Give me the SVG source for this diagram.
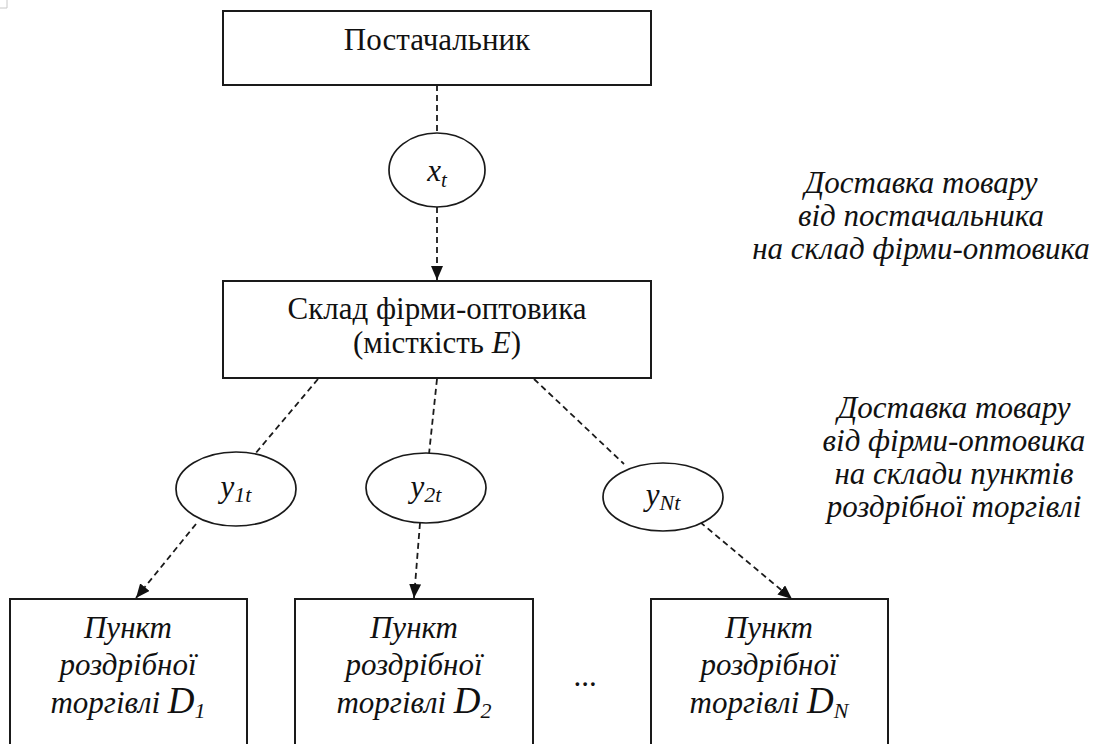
<svg xmlns="http://www.w3.org/2000/svg" width="1105" height="744" viewBox="0 0 1105 744" font-family="Liberation Serif">
  <defs>
    <marker id="arrow" markerUnits="userSpaceOnUse" markerWidth="15" markerHeight="12" refX="14" refY="6" orient="auto">
      <path d="M0,0 L14,6 L0,12 z" fill="#111"/>
    </marker>
  </defs>

  <rect width="1105" height="744" fill="#ffffff"/>
  <!-- page corner mark -->
  <path d="M7,0 V8 H0" fill="none" stroke="#c8c8c8" stroke-width="1"/>

  <!-- dashed flow connectors -->
  <g id="connectors" fill="none" stroke="#1a1a1a" stroke-width="1.8" stroke-dasharray="6 4">
    <line x1="437" y1="85" x2="437" y2="133"/>
    <line x1="437" y1="207" x2="437" y2="280" marker-end="url(#arrow)"/>
    <line x1="318" y1="379" x2="255" y2="454"/>
    <line x1="196" y1="524" x2="136" y2="598" marker-end="url(#arrow)"/>
    <line x1="437" y1="379" x2="429" y2="454"/>
    <line x1="420" y1="523" x2="414" y2="598" marker-end="url(#arrow)"/>
    <line x1="534" y1="379" x2="624" y2="464"/>
    <line x1="700" y1="522" x2="792" y2="599" marker-end="url(#arrow)"/>
  </g>

  <g id="supplier">
    <rect x="223" y="11" width="428" height="74" fill="#ffffff" stroke="#1a1a1a" stroke-width="2"/>
    <text x="437" y="50" font-family="Liberation Serif" font-size="31" fill="#111" text-anchor="middle" style="font-family: 'Liberation Serif' !important">Постачальник</text>
  </g>

  <g id="flow-x">
    <ellipse cx="437" cy="170" rx="48" ry="37" fill="#ffffff" stroke="#1a1a1a" stroke-width="1.7"/>
    <text x="437" y="181" font-family="Liberation Serif" font-size="31" font-style="italic" fill="#111" text-anchor="middle" style="font-family: 'Liberation Serif' !important">x<tspan font-size="21" dy="6">t</tspan></text>
  </g>

  <g id="warehouse">
    <rect x="223" y="281" width="428" height="97" fill="#ffffff" stroke="#1a1a1a" stroke-width="2"/>
    <text x="437" y="319" font-family="Liberation Serif" font-size="31" fill="#111" text-anchor="middle" style="font-family: 'Liberation Serif' !important">Склад фірми-оптовика</text>
    <text x="437" y="353" font-family="Liberation Serif" font-size="31" fill="#111" text-anchor="middle" style="font-family: 'Liberation Serif' !important">(місткість <tspan font-style="italic">E</tspan>)</text>
  </g>

  <g id="flow-y1">
    <ellipse cx="236" cy="489" rx="60" ry="37" fill="#ffffff" stroke="#1a1a1a" stroke-width="1.7"/>
    <text x="236" y="497" font-family="Liberation Serif" font-size="31" font-style="italic" fill="#111" text-anchor="middle" style="font-family: 'Liberation Serif' !important">y<tspan font-size="22" dy="5">1t</tspan></text>
  </g>

  <g id="flow-y2">
    <ellipse cx="426" cy="488" rx="60" ry="35" fill="#ffffff" stroke="#1a1a1a" stroke-width="1.7"/>
    <text x="426" y="497" font-family="Liberation Serif" font-size="31" font-style="italic" fill="#111" text-anchor="middle" style="font-family: 'Liberation Serif' !important">y<tspan font-size="22" dy="5">2t</tspan></text>
  </g>

  <g id="flow-yN">
    <ellipse cx="663" cy="497" rx="60" ry="34" fill="#ffffff" stroke="#1a1a1a" stroke-width="1.7"/>
    <text x="663" y="505" font-family="Liberation Serif" font-size="31" font-style="italic" fill="#111" text-anchor="middle" style="font-family: 'Liberation Serif' !important">y<tspan font-size="22" dy="5">Nt</tspan></text>
  </g>

  <g id="retail-1">
    <rect x="10" y="599" width="237" height="170" fill="#ffffff" stroke="#1a1a1a" stroke-width="2"/>
    <text x="128" y="638" font-family="Liberation Serif" font-size="31" font-style="italic" fill="#111" text-anchor="middle" style="font-family: 'Liberation Serif' !important">Пункт</text>
    <text x="128" y="675" font-family="Liberation Serif" font-size="31" font-style="italic" fill="#111" text-anchor="middle" style="font-family: 'Liberation Serif' !important">роздрібної</text>
    <text x="128" y="713" font-family="Liberation Serif" font-size="31" font-style="italic" fill="#111" text-anchor="middle" style="font-family: 'Liberation Serif' !important">торгівлі <tspan font-size="37">D</tspan><tspan font-size="22" dy="5">1</tspan></text>
  </g>

  <g id="retail-2">
    <rect x="295" y="599" width="238" height="170" fill="#ffffff" stroke="#1a1a1a" stroke-width="2"/>
    <text x="414" y="638" font-family="Liberation Serif" font-size="31" font-style="italic" fill="#111" text-anchor="middle" style="font-family: 'Liberation Serif' !important">Пункт</text>
    <text x="414" y="675" font-family="Liberation Serif" font-size="31" font-style="italic" fill="#111" text-anchor="middle" style="font-family: 'Liberation Serif' !important">роздрібної</text>
    <text x="414" y="713" font-family="Liberation Serif" font-size="31" font-style="italic" fill="#111" text-anchor="middle" style="font-family: 'Liberation Serif' !important">торгівлі <tspan font-size="37">D</tspan><tspan font-size="22" dy="5">2</tspan></text>
  </g>

  <text x="585" y="686" font-family="Liberation Serif" font-size="31" fill="#111" text-anchor="middle" style="font-family: 'Liberation Serif' !important">...</text>

  <g id="retail-N">
    <rect x="651" y="599" width="237" height="170" fill="#ffffff" stroke="#1a1a1a" stroke-width="2"/>
    <text x="769" y="638" font-family="Liberation Serif" font-size="31" font-style="italic" fill="#111" text-anchor="middle" style="font-family: 'Liberation Serif' !important">Пункт</text>
    <text x="769" y="675" font-family="Liberation Serif" font-size="31" font-style="italic" fill="#111" text-anchor="middle" style="font-family: 'Liberation Serif' !important">роздрібної</text>
    <text x="769" y="713" font-family="Liberation Serif" font-size="31" font-style="italic" fill="#111" text-anchor="middle" style="font-family: 'Liberation Serif' !important">торгівлі <tspan font-size="37">D</tspan><tspan font-size="22" dy="5">N</tspan></text>
  </g>

  <g id="note-supply">
    <text x="921" y="193" font-family="Liberation Serif" font-size="31" font-style="italic" fill="#111" text-anchor="middle" style="font-family: 'Liberation Serif' !important">Доставка товару</text>
    <text x="921" y="226" font-family="Liberation Serif" font-size="31" font-style="italic" fill="#111" text-anchor="middle" style="font-family: 'Liberation Serif' !important">від постачальника</text>
    <text x="921" y="259" font-family="Liberation Serif" font-size="31" font-style="italic" fill="#111" text-anchor="middle" style="font-family: 'Liberation Serif' !important">на склад фірми-оптовика</text>
  </g>

  <g id="note-retail">
    <text x="954" y="418" font-family="Liberation Serif" font-size="31" font-style="italic" fill="#111" text-anchor="middle" style="font-family: 'Liberation Serif' !important">Доставка товару</text>
    <text x="954" y="451" font-family="Liberation Serif" font-size="31" font-style="italic" fill="#111" text-anchor="middle" style="font-family: 'Liberation Serif' !important">від фірми-оптовика</text>
    <text x="954" y="484" font-family="Liberation Serif" font-size="31" font-style="italic" fill="#111" text-anchor="middle" style="font-family: 'Liberation Serif' !important">на склади пунктів</text>
    <text x="954" y="517" font-family="Liberation Serif" font-size="31" font-style="italic" fill="#111" text-anchor="middle" style="font-family: 'Liberation Serif' !important">роздрібної торгівлі</text>
  </g>
</svg>
